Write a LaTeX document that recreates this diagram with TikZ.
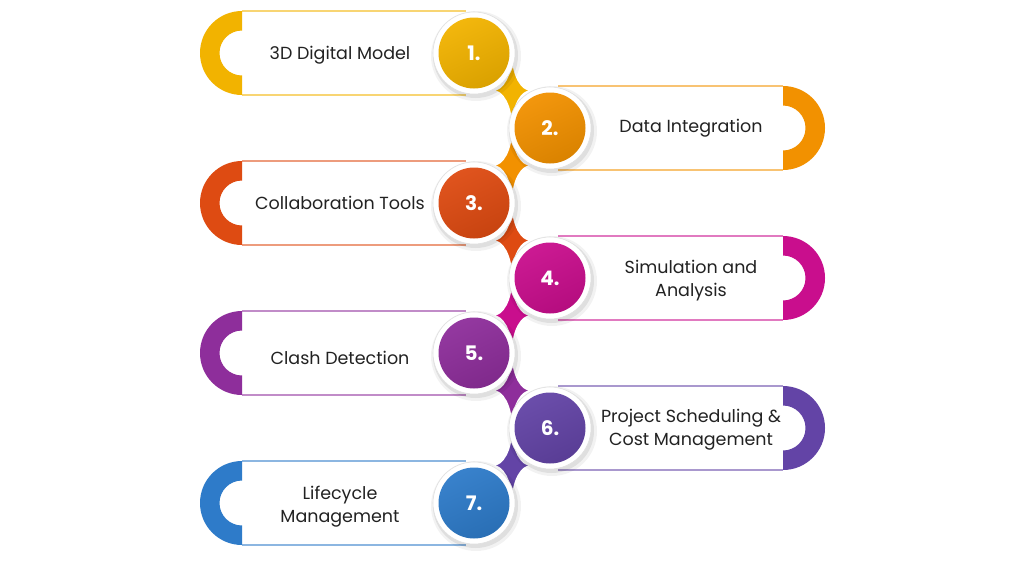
\documentclass[tikz,border=0pt]{standalone}
\usepackage{fontspec}
\setmainfont{Poppins}
\usetikzlibrary{calc}
\definecolor{cI}{HTML}{F2B300}
\definecolor{cII}{HTML}{F29100}
\definecolor{cIII}{HTML}{DE4B12}
\definecolor{cIV}{HTML}{C90E8D}
\definecolor{cV}{HTML}{8E2E9B}
\definecolor{cVI}{HTML}{6344A6}
\definecolor{cVII}{HTML}{2E7BC9}
\definecolor{txt}{HTML}{222222}
\tikzset{
  boxline/.style={line width=1.3pt},
  ringnode/.style={circle, fill=white, draw=black!12, line width=0.6pt, minimum size=82pt, inner sep=0pt},
  numtext/.style={text=white, font=\bfseries\fontsize{20}{20}\selectfont},
  labeltext/.style={text=txt, align=center, font=\fontsize{17.5}{23}\selectfont},
}
\begin{document}
\begin{tikzpicture}[x=1pt,y=-1pt]
\useasboundingbox (0,0) rectangle (1024,576);
\fill[white] (0,0) rectangle (1024,576);
% centres
\foreach \i/\cx/\cy in {1/474/53,2/550/128,3/474/203,4/550/278,5/474/353,6/550/428,7/474/503}{
  \coordinate (p\i) at (\cx,\cy);
}
% necks between consecutive circles
\foreach \a/\b/\col in {1/2/cI,2/3/cII,3/4/cIII,4/5/cIV,5/6/cV,6/7/cVI}{
  \begin{scope}
    \coordinate (m\a) at ($(p\a)!0.5!(p\b)$);
    \clip ($(m\a)+(-16,-32)$) rectangle ($(m\a)+(16,32)$);
    \fill[\col] ($(m\a)+(-16,-32)$) rectangle ($(m\a)+(16,32)$);
    \fill[white] ($(m\a)+(-19,-35)$) ellipse[x radius=19.07, y radius=35.44];
    \fill[white] ($(m\a)+(19,-35)$) ellipse[x radius=19.07, y radius=35.44];
    \fill[white] ($(m\a)+(-19,35)$) ellipse[x radius=19.07, y radius=35.44];
    \fill[white] ($(m\a)+(19,35)$) ellipse[x radius=19.07, y radius=35.44];
  \end{scope}
}
% left boxes
\foreach \i/\col in {1/cI,3/cIII,5/cV,7/cVII}{
  \coordinate (lc\i) at (242,0 |- p\i);
  \coordinate (lt\i) at ($(lc\i)+(0,-42)$);
  \coordinate (lb\i) at ($(lc\i)+(0,42)$);
  \draw[boxline, \col!55!white] (lt\i) -- ($(p\i)+(-8,-42)$);
  \draw[boxline, \col!55!white] (lb\i) -- ($(p\i)+(-8,42)$);
  \begin{scope}
    \clip ($(lt\i)+(-50,-2)$) rectangle ($(lb\i)+(0,2)$);
    \fill[\col, even odd rule] (lc\i) circle[radius=42] (lc\i) circle[radius=22.5];
  \end{scope}
}
% right boxes
\foreach \i/\col in {2/cII,4/cIV,6/cVI}{
  \coordinate (rc\i) at (783,0 |- p\i);
  \coordinate (rt\i) at ($(rc\i)+(0,-42)$);
  \coordinate (rb\i) at ($(rc\i)+(0,42)$);
  \draw[boxline, \col!55!white] ($(p\i)+(8,-42)$) -- (rt\i);
  \draw[boxline, \col!55!white] ($(p\i)+(8,42)$) -- (rb\i);
  \begin{scope}
    \clip ($(rt\i)+(0,-2)$) rectangle ($(rb\i)+(50,2)$);
    \fill[\col, even odd rule] (rc\i) circle[radius=42] (rc\i) circle[radius=22.5];
  \end{scope}
}
% numbered circles
\foreach \i/\col in {1/cI,2/cII,3/cIII,4/cIV,5/cV,6/cVI,7/cVII}{
  \fill[black, opacity=0.05] ($(p\i)+(2,3)$) circle[radius=45];
  \fill[black, opacity=0.08] ($(p\i)+(1.5,2.5)$) circle[radius=42.5];
  \node[ringnode] (n\i) at (p\i) {};
  \shade[top color=\col!95!white, bottom color=\col!90!black, shading angle=25] (p\i) circle[radius=35.5];
  \node[numtext] (num\i) at (p\i) {\i.};
}
% labels
\node[labeltext] (t1) at (340,55) {3D Digital Model};
\node[labeltext] (t2) at (691,128) {Data Integration};
\node[labeltext] (t3) at (340,203) {Collaboration Tools};
\node[labeltext] (t4) at (691,281) {Simulation and\\Analysis};
\node[labeltext] (t5) at (340,358) {Clash Detection};
\node[labeltext] (t6) at (691,430) {Project Scheduling \&\\Cost Management};
\node[labeltext] (t7) at (340,507) {Lifecycle\\Management};
\end{tikzpicture}
\end{document}
